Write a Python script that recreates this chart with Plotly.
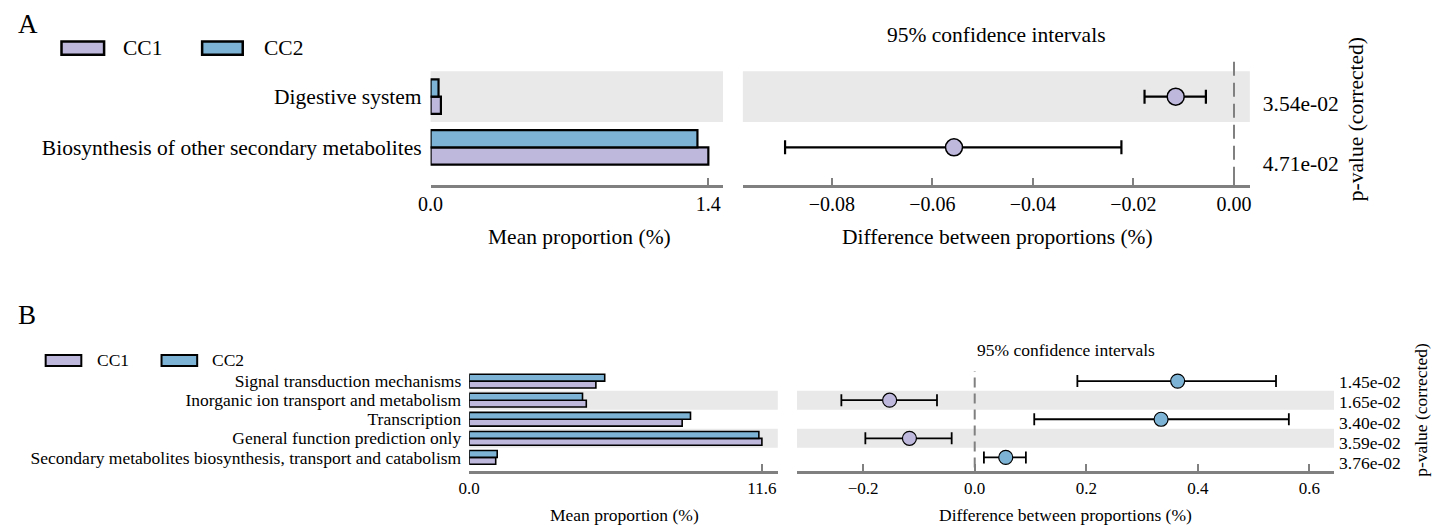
import plotly.graph_objects as go

# ---------------- data ----------------
groups = ["CC1", "CC2"]
colors = {"CC1": "#BDB8DC", "CC2": "#7DB4D5"}

# Panel A (bottom -> top)
A_categories = ["Biosynthesis of other secondary metabolites", "Digestive system"]
A_cc1 = [1.40, 0.052]
A_cc2 = [1.345, 0.040]
A_diff = [-0.0557, -0.0116]
A_low = [-0.0893, -0.0178]
A_high = [-0.0224, -0.0056]
A_p = ["4.71e-02", "3.54e-02"]
A_xticks = [0.0, 1.4]
A_dticks = [-0.08, -0.06, -0.04, -0.02, 0.0]

# Panel B (bottom -> top)
B_categories = ["Secondary metabolites biosynthesis, transport and catabolism",
                "General function prediction only",
                "Transcription",
                "Inorganic ion transport and metabolism",
                "Signal transduction mechanisms"]
B_cc1 = [1.05, 11.60, 8.44, 4.64, 5.02]
B_cc2 = [1.11, 11.48, 8.77, 4.49, 5.37]
B_diff = [0.0556, -0.117, 0.334, -0.1525, 0.3637]
B_low = [0.0165, -0.196, 0.1067, -0.239, 0.184]
B_high = [0.0917, -0.0413, 0.563, -0.0676, 0.540]
B_p = ["3.76e-02", "3.59e-02", "3.40e-02", "1.65e-02", "1.45e-02"]
B_xticks = [0.0, 11.6]
B_dticks = [-0.2, 0.0, 0.2, 0.4, 0.6]

# ---------------- layout helpers ----------------
W, H = 1442, 527
FONT = "Liberation Serif"
AXC = "#808080"
BAND = "#E9E9E9"
FA = 21.5    # panel A font size
FB = 17.5    # panel B font size


def px(x):
    return x / W


def py(y):
    return 1 - y / H


fig = go.Figure()

# ---------- Panel A bars ----------
A_y = list(range(len(A_categories)))
wA = 0.34
fig.add_trace(go.Bar(y=A_y, x=A_cc1, orientation="h", width=wA, offset=-wA,
                     marker=dict(color=colors["CC1"], line=dict(color="black", width=2.2)),
                     xaxis="x", yaxis="y", showlegend=False))
fig.add_trace(go.Bar(y=A_y, x=A_cc2, orientation="h", width=wA, offset=0,
                     marker=dict(color=colors["CC2"], line=dict(color="black", width=2.2)),
                     xaxis="x", yaxis="y", showlegend=False))

# ---------- Panel A CI ----------
A_col = [colors["CC1"] if d < 0 else colors["CC2"] for d in A_diff]
fig.add_trace(go.Scatter(
    x=A_diff, y=A_y, mode="markers", xaxis="x2", yaxis="y2", showlegend=False,
    marker=dict(size=17, color=A_col, line=dict(color="black", width=1.5)),
    error_x=dict(type="data", symmetric=False,
                 array=[h - d for h, d in zip(A_high, A_diff)],
                 arrayminus=[d - l for d, l in zip(A_diff, A_low)],
                 color="black", thickness=2.2, width=7)))
fig.add_trace(go.Scatter(x=A_diff, y=A_y, mode="markers", xaxis="x2", yaxis="y3",
                         marker=dict(opacity=0), showlegend=False, hoverinfo="skip"))

# ---------- Panel B bars ----------
B_y = list(range(len(B_categories)))
wB = 0.36
fig.add_trace(go.Bar(y=B_y, x=B_cc1, orientation="h", width=wB, offset=-wB,
                     marker=dict(color=colors["CC1"], line=dict(color="black", width=1.6)),
                     xaxis="x3", yaxis="y4", showlegend=False))
fig.add_trace(go.Bar(y=B_y, x=B_cc2, orientation="h", width=wB, offset=0,
                     marker=dict(color=colors["CC2"], line=dict(color="black", width=1.6)),
                     xaxis="x3", yaxis="y4", showlegend=False))

# ---------- Panel B CI ----------
B_col = [colors["CC1"] if d < 0 else colors["CC2"] for d in B_diff]
fig.add_trace(go.Scatter(
    x=B_diff, y=B_y, mode="markers", xaxis="x4", yaxis="y5", showlegend=False,
    marker=dict(size=14, color=B_col, line=dict(color="black", width=1.2)),
    error_x=dict(type="data", symmetric=False,
                 array=[h - d for h, d in zip(B_high, B_diff)],
                 arrayminus=[d - l for d, l in zip(B_diff, B_low)],
                 color="black", thickness=1.8, width=6)))
fig.add_trace(go.Scatter(x=B_diff, y=B_y, mode="markers", xaxis="x4", yaxis="y6",
                         marker=dict(opacity=0), showlegend=False, hoverinfo="skip"))

# ---------------- axes ----------------
A_ydom = [py(185.7), py(55)]
B_ydom = [py(473.3), py(373)]
A_yr = [-0.735, 1.827]
B_yr = [-0.693, 4.537]


def xax(dom, rng, tickvals, fmt, size, anchor):
    return dict(domain=dom, range=rng, tickvals=tickvals, tickformat=fmt,
                ticks="inside", ticklen=7, tickwidth=1.5, tickcolor=AXC,
                showline=True, linecolor=AXC, linewidth=2.5, showgrid=False,
                zeroline=False, anchor=anchor, fixedrange=True,
                tickfont=dict(family=FONT, size=size, color="black"))


def yax(dom, rng, tickvals, ticktext, size, anchor, show=True, side="left",
        overlaying=None, standoff=8):
    d = dict(domain=dom, range=rng, tickvals=tickvals, ticktext=ticktext,
             showticklabels=show, ticks="", showline=False, showgrid=False,
             zeroline=False, anchor=anchor, side=side, fixedrange=True,
             ticklabelstandoff=standoff,
             tickfont=dict(family=FONT, size=size, color="black"))
    if overlaying:
        d["overlaying"] = overlaying
    return d


fig.update_layout(
    width=W, height=H, margin=dict(l=0, r=0, t=0, b=0),
    paper_bgcolor="white", plot_bgcolor="rgba(0,0,0,0)",
    barmode="overlay",
    font=dict(family=FONT, color="black"),
    xaxis=xax([px(422.7), px(718)], [0, 1.474], A_xticks, ".1f", 20, "y"),
    yaxis=yax(A_ydom, A_yr, A_y, A_categories, FA, "x", standoff=8),
    xaxis2=xax([px(738), px(1250)], [-0.0977, 0.00315], A_dticks, ".2f", 20, "y2"),
    yaxis2=yax(A_ydom, A_yr, A_y, A_categories, FA, "x2", show=False),
    yaxis3=yax(A_ydom, [-0.362, 1.817], A_y, A_p, FA, "x2", side="right",
               overlaying="y2", standoff=12),
    xaxis3=xax([px(461.7), px(773.3)], [0, 12.23], B_xticks, ".1f", 17, "y4"),
    yaxis4=yax(B_ydom, B_yr, B_y, B_categories, FB, "x3", standoff=7),
    xaxis4=xax([px(792.7), px(1335)], [-0.3185, 0.644], B_dticks, ".1f", 17, "y5"),
    yaxis5=yax(B_ydom, B_yr, B_y, B_categories, FB, "x4", show=False),
    yaxis6=yax(B_ydom, [-0.356, 4.537], B_y, B_p, FB, "x4", side="right",
               overlaying="y5", standoff=4),
)

shapes = []
for yi in [1]:
    for xr in ["x domain", "x2 domain"]:
        shapes.append(dict(type="rect", xref=xr, yref="y", x0=0, x1=1,
                           y0=yi - 0.5, y1=yi + 0.5, fillcolor=BAND,
                           line=dict(width=0), layer="below"))
for yi in [3, 1]:
    for xr, yr in [("x3 domain", "y4"), ("x4 domain", "y5")]:
        shapes.append(dict(type="rect", xref=xr, yref=yr, x0=0, x1=1,
                           y0=yi - 0.5, y1=yi + 0.5, fillcolor=BAND,
                           line=dict(width=0), layer="below"))
shapes.append(dict(type="line", xref="x2", yref="y2 domain", x0=0, x1=0, y0=0.03, y1=1,
                   line=dict(color=AXC, width=2, dash="14px,7px")))
shapes.append(dict(type="line", xref="x4", yref="y5 domain", x0=0, x1=0, y0=0.03, y1=1,
                   line=dict(color=AXC, width=2, dash="10px,6px")))

annotations = []


def ann(text, x, y, size, xanchor="center", yanchor="middle", angle=0):
    annotations.append(dict(text=text, x=px(x), y=py(y), xref="paper", yref="paper",
                            showarrow=False, xanchor=xanchor, yanchor=yanchor,
                            textangle=angle,
                            font=dict(family=FONT, size=size, color="black")))


legA = [(50, 93, 110), (192, 233, 252)]
for g, (x0, x1, tx) in zip(groups, legA):
    shapes.append(dict(type="rect", xref="paper", yref="paper", x0=px(x0), x1=px(x1),
                       y0=py(55), y1=py(41.7), fillcolor=colors[g],
                       line=dict(color="black", width=2.5)))
    ann(g, tx, 48.5, FA, xanchor="left")
legB = [(34, 70, 84), (151, 187, 200)]
for g, (x0, x1, tx) in zip(groups, legB):
    shapes.append(dict(type="rect", xref="paper", yref="paper", x0=px(x0), x1=px(x1),
                       y0=py(368), y1=py(357), fillcolor=colors[g],
                       line=dict(color="black", width=2)))
    ann(g, tx, 362.5, FB, xanchor="left")

ann("A", 16, 24, 27)
ann("B", 15, 317, 27)
ann("95% confidence intervals", 994, 35, FA)
ann("Mean proportion (%)", 573, 238, FA)
ann("Difference between proportions (%)", 995, 238, FA)
ann("p-value (corrected)", 1358, 120, FA, angle=-90)
ann("95% confidence intervals", 1064, 352, FB)
ann("Mean proportion (%)", 619, 518, FB)
ann("Difference between proportions (%)", 1064, 518, FB)
ann("p-value (corrected)", 1422, 412, FB, angle=-90)

fig.update_layout(shapes=shapes, annotations=annotations)
fig.write_html("out.html", config={"displayModeBar": False},
               post_script="document.body.style.margin='0px';"
                           "document.body.style.overflow='hidden';")
